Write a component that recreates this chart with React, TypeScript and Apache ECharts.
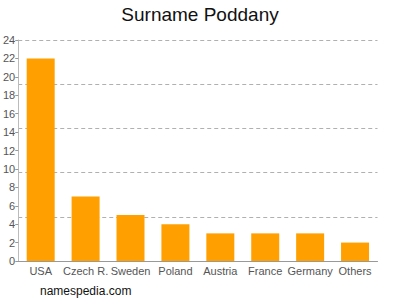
import React, { useEffect, useRef } from "react";
import * as echarts from "echarts";

const categories = ["USA", "Czech R.", "Sweden", "Poland", "Austria", "France", "Germany", "Others"];
const values = [22, 7, 5, 4, 3, 3, 3, 2];
const yTicks = [0, 2, 4, 6, 8, 10, 12, 14, 16, 18, 20, 22, 24];

export default function App() {
  const ref = useRef<HTMLDivElement>(null);
  useEffect(() => {
    if (!ref.current) return;
    const chart = echarts.init(ref.current, null, { renderer: "svg" });
    chart.setOption({
      animation: false,
      title: {
        text: "Surname Poddany",
        left: "center",
        top: 0,
        textStyle: { fontFamily: "Liberation Sans", fontSize: 19, fontWeight: "normal", color: "#111" },
      },
      graphic: [
        {
          type: "text",
          left: 40,
          top: 285,
          style: { text: "namespedia.com", fontFamily: "Liberation Sans", fontSize: 12, fill: "#111" },
        },
      ],
      grid: { left: 17.5, right: 22.5, top: 40, bottom: 39, containLabel: false },
      xAxis: {
        type: "category",
        data: categories,
        axisLine: { lineStyle: { color: "#999" } },
        axisTick: { alignWithLabel: true, length: 3, lineStyle: { color: "#999" } },
        axisLabel: { color: "#555", fontFamily: "Liberation Sans", fontSize: 11, margin: 4, interval: 0 },
      },
      yAxis: [
        {
          type: "value",
          min: yTicks[0],
          max: yTicks[yTicks.length - 1],
          interval: 2,
          axisLine: { show: true, lineStyle: { color: "#bbb" } },
          axisTick: { show: true, length: 3, lineStyle: { color: "#999" } },
          axisLabel: { color: "#555", fontFamily: "Liberation Sans", fontSize: 11, margin: 3 },
          splitLine: { show: false },
        },
        {
          type: "value",
          min: 0,
          max: 24,
          interval: 4.8,
          position: "left",
          axisLine: { show: false },
          axisTick: { show: false },
          axisLabel: { show: false },
          splitLine: { show: true, lineStyle: { color: "#b0b0b0", type: [4, 3] } },
        },
      ],
      series: [
        {
          type: "bar",
          data: values,
          barWidth: 28,
          itemStyle: { color: "#ffa000" },
          yAxisIndex: 0,
        },
      ],
    });
    return () => chart.dispose();
  }, []);
  return <div ref={ref} style={{ width: 400, height: 300, position: "absolute", left: 0, top: 0 }} />;
}
